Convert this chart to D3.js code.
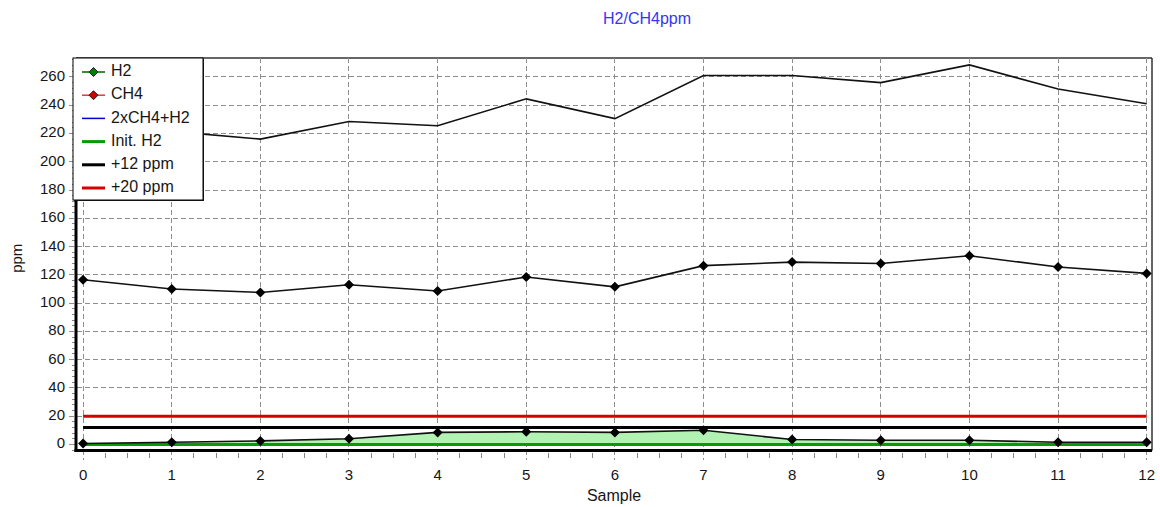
<!DOCTYPE html>
<html>
<head>
<meta charset="utf-8">
<script src="https://cdn.jsdelivr.net/npm/d3@7"></script>
<style>
  html, body { margin: 0; padding: 0; background: #fff; }
  svg { display: block; font-family: "Liberation Sans", Arial, sans-serif; }
</style>
</head>
<body>
<svg id="chart" width="1160" height="507"></svg>
<script>
// Samples along the x axis
const samples = [0, 1, 2, 3, 4, 5, 6, 7, 8, 9, 10, 11, 12];
// Gas concentrations per sample (ppm)
const h2 = [0.7, 1.5, 2.5, 4, 8.5, 9, 8.5, 10, 3.5, 3, 3, 1.5, 1.5];
const ch4 = [116.5, 110, 107.5, 113, 108.5, 118.5, 111.5, 126.5, 129, 128, 133.5, 125.5, 121];
const combined = [233.5, 221.5, 216, 228.5, 225.5, 244.5, 230.5, 261, 261, 256, 268.5, 251.5, 241];
// Reference levels (ppm)
const initH2 = 0;
const plus12 = 12;
const plus20 = 20;
// Axis ticks
const yTicks = [0, 20, 40, 60, 80, 100, 120, 140, 160, 180, 200, 220, 240, 260];
const xTicks = samples;
// Legend entries
const legendLabels = ["H2", "CH4", "2xCH4+H2", "Init. H2", "+12 ppm", "+20 ppm"];

const svg = d3.select("#chart");
const pLeft = 76, pRight = 1152, pTop = 58, pBottom = 450.5;

const x = d3.scaleLinear().domain([-0.08, 12.06]).range([pLeft, pRight]);
const y = d3.scaleLinear().domain([-4.3, 273.4]).range([pBottom, pTop]);

const gridColor = "#8e8e8e";
const textColor = "#161616";

// Title
svg.append("text").attr("x", 647).attr("y", 20).attr("text-anchor", "middle")
  .attr("dominant-baseline", "middle").attr("font-size", 16).attr("fill", "#3535f5")
  .text("H2/CH4ppm");

// Frame (top and right)
svg.append("line").attr("x1", pLeft).attr("x2", pRight).attr("y1", pTop).attr("y2", pTop)
  .attr("stroke", "#333").attr("stroke-width", 1.5);
svg.append("line").attr("x1", pRight).attr("x2", pRight).attr("y1", pTop).attr("y2", pBottom)
  .attr("stroke", "#333").attr("stroke-width", 1.5);

// Horizontal grid lines with their ticks
svg.append("g").selectAll("line").data(yTicks.filter(d => d > 0)).join("line")
  .attr("x1", 69).attr("x2", x(12)).attr("y1", d => y(d)).attr("y2", d => y(d))
  .attr("stroke", gridColor).attr("stroke-width", 1).attr("stroke-dasharray", "5,3")
  .attr("shape-rendering", "crispEdges");
svg.append("line").attr("x1", 69).attr("x2", pLeft).attr("y1", y(0)).attr("y2", y(0))
  .attr("stroke", gridColor);

// Minor y ticks
const yMinor = d3.range(-4, 273, 4).filter(v => v % 20 !== 0);
svg.append("g").selectAll("line").data(yMinor).join("line")
  .attr("x1", 72).attr("x2", pLeft).attr("y1", d => y(d)).attr("y2", d => y(d))
  .attr("stroke", "#888").attr("stroke-width", 1).attr("shape-rendering", "crispEdges");

// Vertical grid lines extending below the axis as major ticks
svg.append("g").selectAll("line").data(xTicks).join("line")
  .attr("x1", d => x(d)).attr("x2", d => x(d)).attr("y1", pTop).attr("y2", 460)
  .attr("stroke", gridColor).attr("stroke-width", 1).attr("stroke-dasharray", "5,3")
  .attr("shape-rendering", "crispEdges");

// Minor x ticks
const xMinor = d3.range(0, 12, 0.25).filter(v => v % 1 !== 0);
svg.append("g").selectAll("line").data(xMinor).join("line")
  .attr("x1", d => x(d)).attr("x2", d => x(d)).attr("y1", pBottom + 2).attr("y2", pBottom + 7)
  .attr("stroke", "#888").attr("stroke-width", 1).attr("shape-rendering", "crispEdges");

// H2 excess area above the initial level
const area = d3.area().x((d, i) => x(samples[i])).y0(y(initH2)).y1(d => y(d));
svg.append("path").datum(h2).attr("d", area).attr("fill", "#b2f2b2");

// Reference levels
function hline(v, color) {
  svg.append("line").attr("x1", x(0)).attr("x2", x(12)).attr("y1", y(v)).attr("y2", y(v))
    .attr("stroke", color).attr("stroke-width", 3);
}
hline(plus20, "#d40000");
hline(plus12, "#000");
hline(initH2, "#079a07");

// Series lines
const line = d3.line().x((d, i) => x(samples[i])).y(d => y(d));
[h2, ch4, combined].forEach(series => {
  svg.append("path").datum(series).attr("d", line)
    .attr("fill", "none").attr("stroke", "#111").attr("stroke-width", 1.6);
});

// Diamond markers
const diamond = "M0,-5L5,0L0,5L-5,0Z";
[h2, ch4].forEach(series => {
  svg.append("g").selectAll("path").data(series).join("path")
    .attr("d", diamond)
    .attr("transform", (d, i) => `translate(${x(samples[i])},${y(d)})`)
    .attr("fill", "#000");
});

// Axes (thick left and bottom)
svg.append("line").attr("x1", pLeft).attr("x2", pLeft).attr("y1", pTop).attr("y2", pBottom + 1.5)
  .attr("stroke", "#000").attr("stroke-width", 3);
svg.append("line").attr("x1", pLeft - 1.5).attr("x2", pRight).attr("y1", pBottom).attr("y2", pBottom)
  .attr("stroke", "#000").attr("stroke-width", 3);

// Tick labels
svg.append("g").selectAll("text").data(yTicks).join("text")
  .attr("x", 65).attr("y", d => y(d)).attr("text-anchor", "end")
  .attr("dominant-baseline", "middle").attr("font-size", 15).attr("fill", textColor)
  .text(d => d);
svg.append("g").selectAll("text").data(xTicks).join("text")
  .attr("x", d => x(d)).attr("y", 476).attr("text-anchor", "middle")
  .attr("dominant-baseline", "middle").attr("font-size", 15).attr("fill", textColor)
  .text(d => d);

// Axis titles
svg.append("text").attr("x", (pLeft + pRight) / 2).attr("y", 497).attr("text-anchor", "middle")
  .attr("dominant-baseline", "middle").attr("font-size", 16).attr("fill", textColor)
  .text("Sample");
svg.append("text").attr("transform", `translate(18,${(pTop + pBottom) / 2 + 4}) rotate(-90)`)
  .attr("text-anchor", "middle").attr("dominant-baseline", "middle")
  .attr("font-size", 15).attr("fill", textColor).text("ppm");

// Legend
const lg = svg.append("g").attr("transform", "translate(73,58)");
lg.append("rect").attr("x", 1).attr("y", 1).attr("width", 130).attr("height", 142).attr("fill", "#222");
lg.append("rect").attr("x", 0).attr("y", 0).attr("width", 130).attr("height", 142)
  .attr("fill", "#fff").attr("stroke", "#000").attr("stroke-width", 1);
const legendStyles = [
  { stroke: "#006000", width: 1.5, marker: "#008000" },
  { stroke: "#d04040", width: 1.5, marker: "#cc0000" },
  { stroke: "#0000d0", width: 1.5 },
  { stroke: "#079a07", width: 3 },
  { stroke: "#000", width: 3 },
  { stroke: "#d40000", width: 3 }
];
const rows = lg.selectAll("g.row").data(legendLabels).join("g")
  .attr("class", "row").attr("transform", (d, i) => `translate(0,${14 + i * 23.2})`);
rows.append("line").attr("x1", 9).attr("x2", 32).attr("y1", 0).attr("y2", 0)
  .attr("stroke", (d, i) => legendStyles[i].stroke)
  .attr("stroke-width", (d, i) => legendStyles[i].width);
rows.filter((d, i) => legendStyles[i].marker).append("path")
  .attr("d", "M0,-4.5L4.5,0L0,4.5L-4.5,0Z").attr("transform", "translate(20.5,0)")
  .attr("fill", (d, i) => legendStyles[i].marker).attr("stroke", "#222").attr("stroke-width", 1);
rows.append("text").attr("x", 38).attr("y", 0).attr("dominant-baseline", "middle")
  .attr("font-size", 16).attr("fill", textColor).text(d => d);
</script>
</body>
</html>
